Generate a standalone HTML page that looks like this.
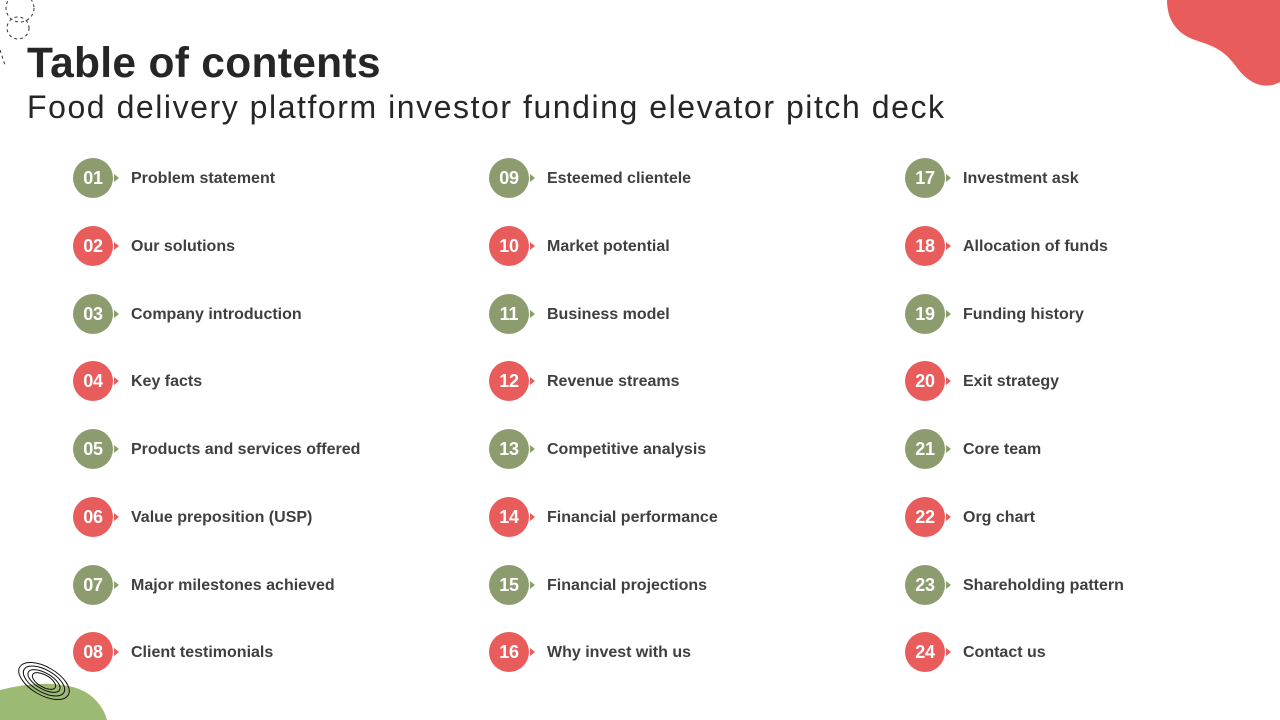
<!DOCTYPE html>
<html><head><meta charset="utf-8"><style>
body{margin:0;width:1280px;height:720px;background:#fff;position:relative;overflow:hidden;font-family:"Liberation Sans",sans-serif}
.t{position:absolute;left:27px;top:40px;font-size:42.5px;font-weight:bold;color:#262626;letter-spacing:0.3px}
.s{position:absolute;left:27px;top:89px;font-size:32px;color:#262626;font-weight:normal;letter-spacing:1.55px}
.c{position:absolute;width:40px;height:40px;border-radius:50%;color:#fff;font-weight:bold;font-size:18px;text-align:center;line-height:40px;letter-spacing:-0.2px}
.c:after{content:"";position:absolute;left:41px;top:16px;border-left:5px solid;border-top:4px solid transparent;border-bottom:4px solid transparent}
.g{background:#8d9c6e}.g:after{border-left-color:#8d9c6e}
.r{background:#e85c5c}.r:after{border-left-color:#e85c5c}
.l{position:absolute;font-size:16px;font-weight:bold;color:#3f3f3f}
</style></head><body>
<svg width="1280" height="720" style="position:absolute;left:0;top:0">
<path d="M1167 0 L1280 0 L1280 82 C1262 92 1245 80 1235 65 C1222 48 1210 45 1195 40 C1175 33 1167 18 1167 0Z" fill="#e85c5c"/>
<path d="M0 690 C30 682 70 680 90 695 C100 703 105 712 107 720 L0 720Z" fill="#9cba74"/>
<g fill="none" stroke="#111" stroke-width="1">
<ellipse cx="44" cy="681" rx="28" ry="14" transform="rotate(30 44 681)"/>
<ellipse cx="44" cy="681" rx="23" ry="11" transform="rotate(30 44 681)"/>
<ellipse cx="44" cy="681" rx="18" ry="8" transform="rotate(30 44 681)"/>
<ellipse cx="44" cy="681" rx="13" ry="6" transform="rotate(30 44 681)"/>
</g>
<g fill="none" stroke="#333" stroke-width="1" stroke-dasharray="3 3">
<circle cx="20" cy="8" r="14"/><circle cx="18" cy="28" r="11"/><path d="M0 50 L5 65"/>
</g>
</svg>
<div class="t">Table of contents</div>
<div class="s">Food delivery platform investor funding elevator pitch deck</div>
<div id="w"></div>
<script>
var items=[["01","Problem statement"],["02","Our solutions"],["03","Company introduction"],["04","Key facts"],["05","Products and services offered"],["06","Value preposition (USP)"],["07","Major milestones achieved"],["08","Client testimonials"],["09","Esteemed clientele"],["10","Market potential"],["11","Business model"],["12","Revenue streams"],["13","Competitive analysis"],["14","Financial performance"],["15","Financial projections"],["16","Why invest with us"],["17","Investment ask"],["18","Allocation of funds"],["19","Funding history"],["20","Exit strategy"],["21","Core team"],["22","Org chart"],["23","Shareholding pattern"],["24","Contact us"]];
var ys=[178,246,314,381,449,517,585,652],h="";
items.forEach(function(it,i){var col=Math.floor(i/8),row=i%8,x=73+col*416,y=ys[row]-20;
h+='<div class="c '+(row%2?'r':'g')+'" style="left:'+x+'px;top:'+y+'px">'+it[0]+'</div><div class="l" style="left:'+(x+58)+'px;top:'+(y+12)+'px">'+it[1]+'</div>';});
document.getElementById("w").innerHTML=h;
</script>
</body></html>
